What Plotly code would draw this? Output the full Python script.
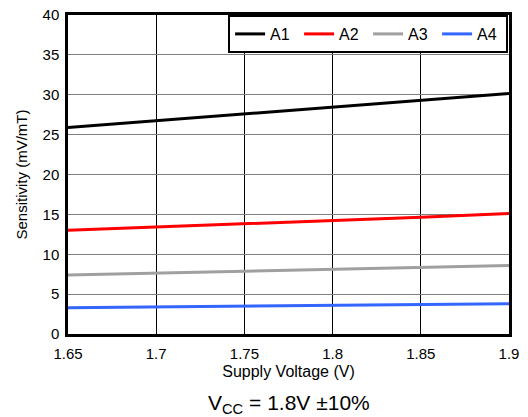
import plotly.graph_objects as go

voltage = [1.65, 1.70, 1.75, 1.80, 1.85, 1.90]
a1 = [25.9, 26.75, 27.6, 28.45, 29.3, 30.15]
a2 = [13.0, 13.4, 13.8, 14.2, 14.65, 15.1]
a3 = [7.4, 7.65, 7.9, 8.1, 8.35, 8.6]
a4 = [3.3, 3.4, 3.5, 3.6, 3.7, 3.8]

series = [("A1", a1, "#000000"), ("A2", a2, "#ff0000"),
          ("A3", a3, "#a0a0a0"), ("A4", a4, "#3366ff")]

fig = go.Figure()
for name, vals, col in series:
    fig.add_trace(go.Scatter(x=voltage, y=vals, mode="lines", name=name,
                             line=dict(color=col, width=3)))

font = "Liberation Sans, Arial, sans-serif"
fig.update_layout(
    width=520, height=409,
    margin=dict(l=60, r=19, t=7, b=83),
    paper_bgcolor="white", plot_bgcolor="white",
    font=dict(family=font, size=15, color="black"),
    showlegend=True,
    legend=dict(orientation="h", x=0.363, y=1, xanchor="left", yanchor="top",
                bgcolor="white", bordercolor="black", borderwidth=2,
                font=dict(size=16), entrywidth=24, entrywidthmode="pixels",
                tracegroupgap=0),
    xaxis=dict(range=[1.65, 1.9], tickvals=[1.65, 1.7, 1.75, 1.8, 1.85, 1.9],
               ticktext=["1.65", "1.7", "1.75", "1.8", "1.85", "1.9"],
               showgrid=True, gridcolor="black", gridwidth=1,
               showline=True, linecolor="black", linewidth=2.5, mirror=True,
               ticks="", zeroline=False, tickfont=dict(size=15),
               automargin=False, ticklabelstandoff=4, ticklabeloverflow="allow",
               title=dict(text="Supply Voltage (V)", font=dict(size=16), standoff=6)),
    yaxis=dict(range=[0, 40], dtick=5,
               showgrid=True, gridcolor="#808080", gridwidth=1,
               showline=True, linecolor="black", linewidth=2.5, mirror=True,
               ticks="", zeroline=False, tickfont=dict(size=15),
               automargin=False, ticklabelstandoff=3, ticklabeloverflow="allow",
               title=dict(text="Sensitivity (mV/mT)", font=dict(size=15), standoff=12)),
    annotations=[dict(text="V<sub>CC</sub> = 1.8V ±10%", x=0.5, y=-0.172,
                      xref="paper", yref="paper", xanchor="center", yanchor="top",
                      showarrow=False, font=dict(size=21))],
)

fig.write_html("out.html")
